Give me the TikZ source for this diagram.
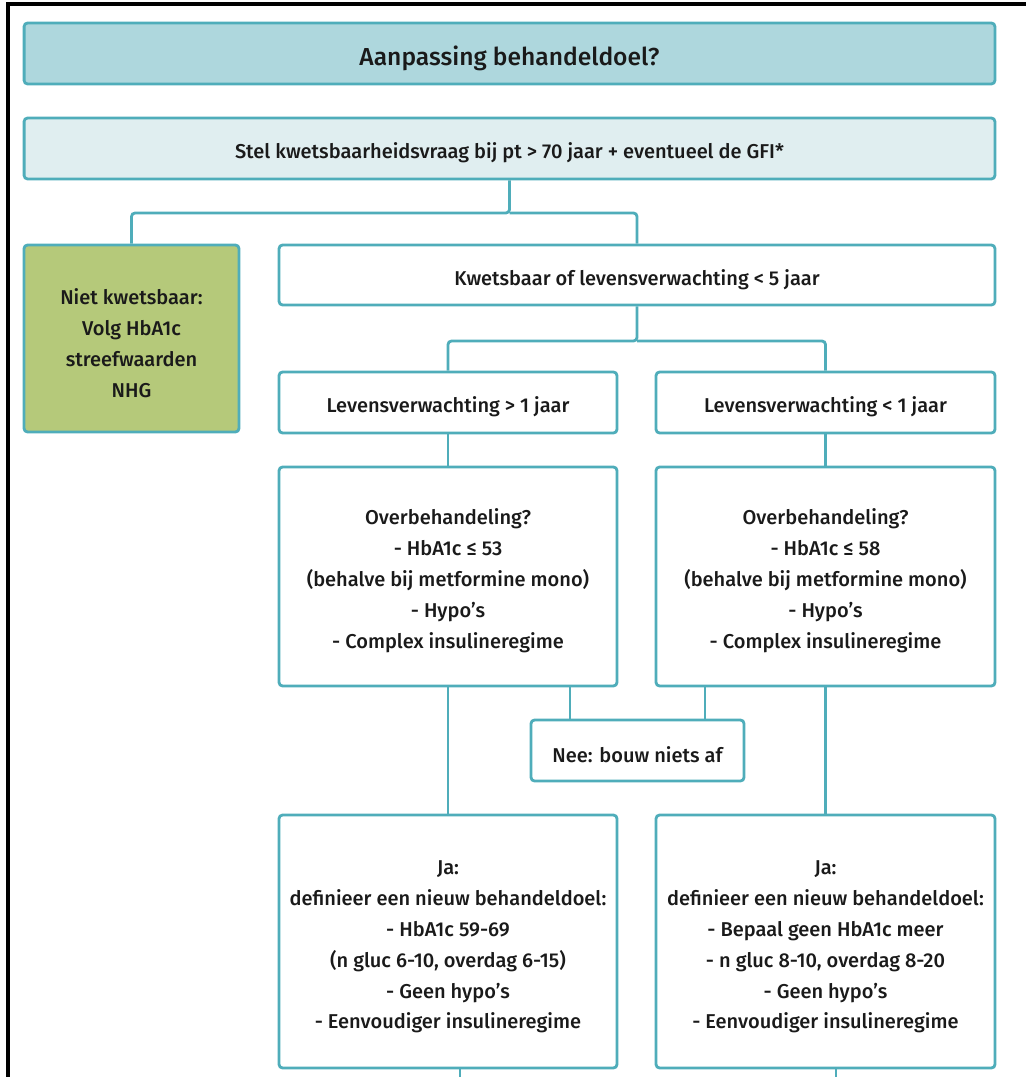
\documentclass[tikz,border=0pt]{standalone}
\usepackage{fontspec}
\setmainfont{Fira Sans}[BoldFont={Fira Sans Medium}]
\usepackage{xcolor}
\usepackage{tikz}
\usetikzlibrary{positioning}
\definecolor{rand}{HTML}{4FADBA}
\definecolor{kop}{HTML}{AED7DD}
\definecolor{vraagbg}{HTML}{E0EEF0}
\definecolor{groenbg}{HTML}{B5C97A}
\definecolor{inkt}{HTML}{1A1A1A}
\newcommand{\opstap}{\rule{0pt}{14pt}}
\tikzset{
  blok/.style={rectangle, rounded corners=2pt, draw=rand, line width=1.6pt, fill=white, align=center, text=inkt, font=\fontsize{11.4}{17.6}\selectfont\bfseries, inner sep=2pt, execute at begin node={\opstap}},
  titel/.style={blok, fill=kop, font=\fontsize{14}{18}\selectfont\bfseries, execute at begin node={\rule{0pt}{16.5pt}}},
  vraag/.style={blok, fill=vraagbg},
  groen/.style={blok, fill=groenbg},
  lijn/.style={draw=rand, line width=1.6pt, rounded corners=2pt},
}
\begin{document}
\begin{tikzpicture}[x=0.02cm, y=-0.02cm]
\useasboundingbox (0,0) rectangle (1026,1077);
% kader
\draw[line width=1.8pt, black] (8,1077) -- (8,4) -- (1026,4);
% bovenste blokken
\node[titel, minimum width=19.42cm, minimum height=1.22cm] (titel) at (509.5,53.5) {Aanpassing behandeldoel?};
\node[vraag, minimum width=19.42cm, minimum height=1.22cm] (vraag) at (509.5,148.5) {Stel kwetsbaarheidsvraag bij pt > 70 jaar + eventueel de GFI*};
\node[groen, minimum width=4.3cm, minimum height=3.74cm] (groen) at (131.5,338.5) {\opstap Niet kwetsbaar:\\Volg HbA1c\\streefwaarden\\NHG};
\node[blok, minimum width=14.32cm, minimum height=1.2cm] (kwets) at (637,275) {Kwetsbaar of levensverwachting < 5 jaar};
% levensverwachting
\node[blok, minimum width=6.76cm, minimum height=1.22cm] (langer) at (448,402.5) {Levensverwachting > 1 jaar};
\node[blok, minimum width=6.78cm, minimum height=1.22cm] (korter) at (825.5,402.5) {Levensverwachting < 1 jaar};
\node[blok, minimum width=6.76cm, minimum height=4.38cm] (over1) at (448,576.5) {\opstap Overbehandeling?\\- HbA1c ≤ 53\\(behalve bij metformine mono)\\- Hypo’s\\- Complex insulineregime};
\node[blok, minimum width=6.78cm, minimum height=4.38cm] (over2) at (825.5,576.5) {\opstap Overbehandeling?\\- HbA1c ≤ 58\\(behalve bij metformine mono)\\- Hypo’s\\- Complex insulineregime};
\node[blok, minimum width=4.26cm, minimum height=1.22cm] (nee) at (637.5,750.5) {Nee: bouw niets af};
\node[blok, minimum width=6.76cm, minimum height=5.06cm] (ja1) at (448,941.5) {\opstap Ja:\\definieer een nieuw behandeldoel:\\- HbA1c 59-69\\(n gluc 6-10, overdag 6-15)\\- Geen hypo’s\\- Eenvoudiger insulineregime};
\node[blok, minimum width=6.78cm, minimum height=5.06cm] (ja2) at (825.5,941.5) {\opstap Ja:\\definieer een nieuw behandeldoel:\\- Bepaal geen HbA1c meer\\- n gluc 8-10, overdag 8-20\\- Geen hypo’s\\- Eenvoudiger insulineregime};
% verbindingen
\coordinate (split1) at (509.5,213);
\coordinate (split2) at (637,341);
\coordinate (uit1) at (460,1077);
\coordinate (uit2) at (836,1077);
\draw[lijn] (vraag.south) -- (split1) -| (groen.north);
\draw[lijn] (split1) -| (kwets.north);
\draw[lijn] (kwets.south) -- (split2) -| (langer.north);
\draw[lijn] (split2) -| (korter.north);
\draw[lijn] (langer) -- (over1);
\draw[lijn] (korter) -- (over2);
\draw[lijn] (over1.south) -- (ja1.north);
\draw[lijn] (over2.south) -- (ja2.north);
\draw[lijn] (over1.south -| 570,0) -- (nee.north -| 570,0);
\draw[lijn] (over2.south -| 705,0) -- (nee.north -| 705,0);
\draw[lijn] (ja1.south -| uit1) -- (uit1);
\draw[lijn] (ja2.south -| uit2) -- (uit2);
\end{tikzpicture}
\end{document}
